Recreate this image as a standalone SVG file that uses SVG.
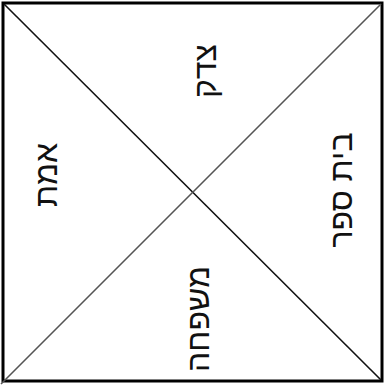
<svg xmlns="http://www.w3.org/2000/svg" width="385" height="389" viewBox="0 0 385 389">
<style>
.lbl{font-family:"Liberation Sans","Arial","DejaVu Sans",sans-serif;font-size:32px;fill:#111;text-anchor:middle}
.frame{fill:none;stroke:#000;stroke-width:3}
.diag1{stroke:#111;stroke-width:1.6}
.diag2{stroke:#555;stroke-width:1.6}
</style>
<rect width="385" height="389" fill="#fff"/>
<g id="frame">
<rect class="frame" x="3" y="3" width="379" height="378"/>
</g>
<g id="connectors">
<line class="diag1" x1="4" y1="4" x2="381" y2="380"/>
<line class="diag2" x1="381" y1="4" x2="1" y2="384"/>
</g>
<g id="top">
<text class="lbl" transform="translate(216,71) rotate(-90)">צדק</text>
</g>
<g id="left">
<text class="lbl" transform="translate(57,175) rotate(-90)">אמת</text>
</g>
<g id="right">
<text class="lbl" transform="translate(352,190) rotate(-90)">בית ספר</text>
</g>
<g id="bottom">
<text class="lbl" transform="translate(209,319) rotate(-90)">משפחה</text>
</g>
</svg>
